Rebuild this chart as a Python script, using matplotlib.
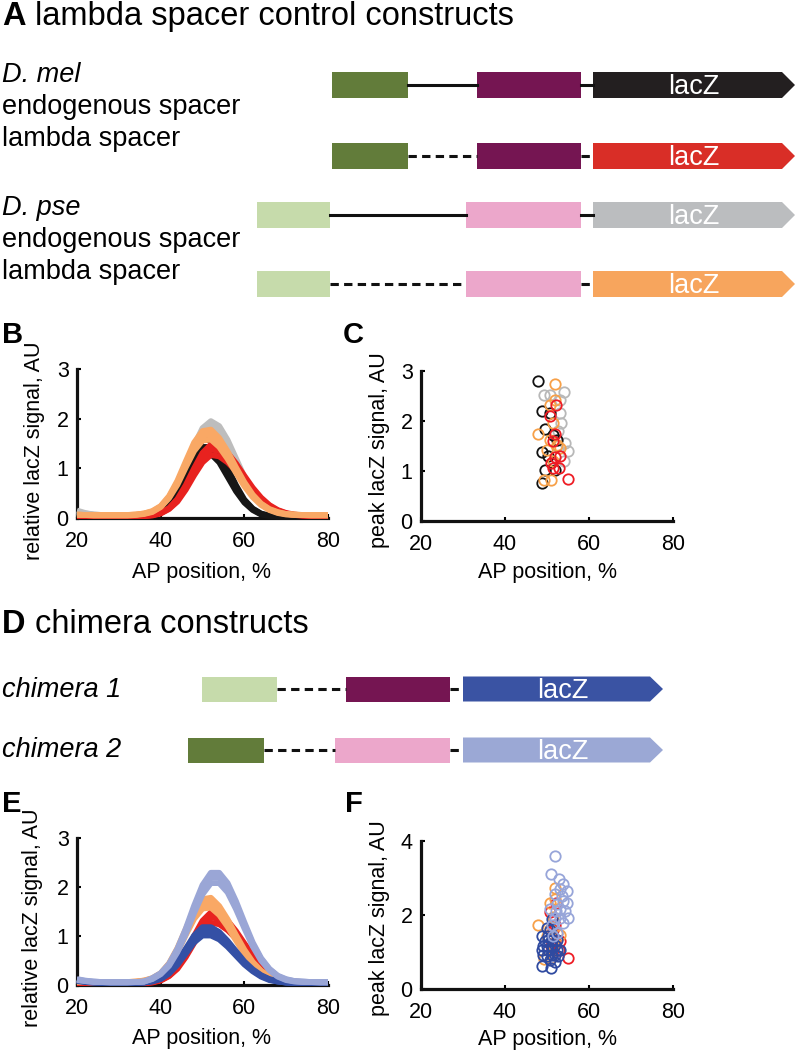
import matplotlib
matplotlib.use("Agg")
import matplotlib.pyplot as plt
import matplotlib.patches as patches

W, H = 796, 1050
plt.rcParams['font.family'] = ['Liberation Sans', 'DejaVu Sans']
plt.rcParams['lines.scale_dashes'] = False

# ---- data ----
ap = list(range(20, 81, 2))  # AP position, %

# relative lacZ signal profiles (several embryos per construct)
mel_endo = [
    [0.04,0.03,0.02,0.02,0.02,0.02,0.02,0.03,0.05,0.10,0.20,0.39,0.68,1.03,1.36,1.57,1.57,1.36,1.01,0.66,0.37,0.19,0.09,0.05,0.03,0.02,0.02,0.02,0.02,0.02,0.02],
    [0.04,0.03,0.02,0.02,0.02,0.02,0.02,0.03,0.05,0.09,0.18,0.36,0.62,0.94,1.24,1.43,1.43,1.24,0.92,0.60,0.34,0.18,0.08,0.04,0.03,0.02,0.02,0.02,0.02,0.02,0.02],
    [0.03,0.03,0.02,0.02,0.02,0.02,0.02,0.03,0.04,0.08,0.16,0.32,0.56,0.85,1.12,1.29,1.29,1.12,0.83,0.54,0.31,0.16,0.07,0.04,0.03,0.02,0.02,0.02,0.02,0.02,0.02],
]
mel_lambda = [
    [0.04,0.04,0.04,0.04,0.04,0.04,0.04,0.04,0.04,0.06,0.10,0.20,0.38,0.66,1.00,1.31,1.48,1.45,1.31,1.10,0.85,0.61,0.41,0.26,0.16,0.10,0.07,0.05,0.04,0.04,0.04],
    [0.04,0.04,0.04,0.04,0.04,0.04,0.04,0.04,0.04,0.06,0.10,0.19,0.36,0.62,0.94,1.22,1.38,1.35,1.22,1.03,0.80,0.57,0.38,0.24,0.15,0.09,0.06,0.05,0.04,0.04,0.04],
    [0.04,0.04,0.04,0.04,0.04,0.04,0.04,0.04,0.04,0.05,0.09,0.18,0.33,0.57,0.86,1.12,1.27,1.24,1.12,0.95,0.74,0.53,0.35,0.22,0.14,0.09,0.06,0.05,0.04,0.04,0.04],
]
pse_endo = [
    [0.15,0.10,0.07,0.06,0.05,0.05,0.05,0.05,0.06,0.10,0.18,0.35,0.63,1.03,1.46,1.81,1.95,1.85,1.57,1.20,0.83,0.52,0.31,0.18,0.10,0.07,0.06,0.05,0.05,0.05,0.05],
    [0.12,0.09,0.07,0.06,0.05,0.05,0.05,0.05,0.06,0.10,0.17,0.33,0.60,0.97,1.38,1.71,1.84,1.75,1.48,1.13,0.79,0.49,0.30,0.17,0.10,0.07,0.06,0.05,0.05,0.05,0.05],
    [0.10,0.08,0.06,0.05,0.05,0.05,0.05,0.05,0.06,0.09,0.16,0.31,0.57,0.92,1.31,1.62,1.74,1.65,1.40,1.07,0.74,0.47,0.28,0.16,0.09,0.06,0.05,0.05,0.05,0.05,0.05],
]
pse_lambda = [
    [0.07,0.06,0.06,0.06,0.06,0.06,0.06,0.07,0.09,0.14,0.24,0.44,0.75,1.14,1.52,1.75,1.78,1.61,1.34,1.02,0.72,0.47,0.29,0.18,0.12,0.08,0.07,0.06,0.06,0.06,0.06],
    [0.07,0.06,0.06,0.06,0.06,0.06,0.06,0.07,0.09,0.13,0.23,0.42,0.71,1.08,1.44,1.66,1.68,1.52,1.27,0.97,0.68,0.45,0.28,0.17,0.11,0.08,0.07,0.06,0.06,0.06,0.06],
    [0.06,0.06,0.05,0.05,0.05,0.05,0.05,0.06,0.08,0.12,0.22,0.40,0.67,1.02,1.35,1.56,1.58,1.43,1.19,0.91,0.64,0.42,0.26,0.16,0.10,0.07,0.06,0.06,0.05,0.05,0.05],
]
chim1 = [
    [0.10,0.07,0.05,0.04,0.04,0.04,0.04,0.04,0.05,0.08,0.14,0.27,0.48,0.74,1.01,1.18,1.18,1.08,0.90,0.69,0.48,0.32,0.20,0.12,0.08,0.05,0.04,0.04,0.04,0.04,0.04],
    [0.09,0.06,0.05,0.04,0.04,0.04,0.04,0.04,0.05,0.08,0.13,0.25,0.45,0.69,0.94,1.10,1.10,1.01,0.84,0.65,0.45,0.30,0.19,0.11,0.07,0.05,0.04,0.04,0.04,0.04,0.04],
    [0.08,0.06,0.05,0.04,0.04,0.04,0.04,0.04,0.05,0.07,0.12,0.23,0.41,0.64,0.87,1.01,1.01,0.93,0.78,0.60,0.42,0.28,0.17,0.10,0.07,0.05,0.04,0.04,0.04,0.04,0.04],
]
chim2 = [
    [0.12,0.09,0.07,0.06,0.06,0.06,0.06,0.06,0.07,0.14,0.24,0.43,0.74,1.15,1.62,2.04,2.29,2.29,2.08,1.71,1.28,0.87,0.55,0.33,0.19,0.12,0.08,0.07,0.06,0.06,0.06],
    [0.11,0.08,0.07,0.06,0.06,0.06,0.06,0.06,0.07,0.13,0.23,0.41,0.71,1.10,1.55,1.95,2.19,2.19,1.99,1.63,1.22,0.83,0.53,0.32,0.18,0.11,0.08,0.07,0.06,0.06,0.06],
    [0.10,0.08,0.06,0.06,0.05,0.05,0.05,0.06,0.07,0.12,0.22,0.39,0.67,1.04,1.47,1.85,2.08,2.08,1.89,1.55,1.16,0.79,0.50,0.30,0.17,0.10,0.07,0.06,0.06,0.05,0.05],
]

# peak position / peak lacZ signal per embryo
mel_endo_px = [47.9, 48.7, 49.5, 48.7, 49.5, 48.9, 50.7, 51.5, 52.3, 50.3, 51.9]
mel_endo_py = [2.79, 2.19, 1.83, 1.37, 1.01, 0.77, 2.15, 1.72, 1.62, 1.29, 1.02]
pse_endo_px = [49.3, 50.6, 54.0, 53.1, 53.3, 52.5, 54.3, 54.9, 54.0, 52.3, 53.1]
pse_endo_py = [2.52, 2.52, 2.57, 2.15, 1.95, 1.79, 1.55, 1.39, 1.19, 1.49, 2.42]
pse_lambda_px = [51.9, 47.9, 50.7, 51.9, 51.5, 50.7, 49.9, 52.3, 49.3, 50.9, 51.5, 53.1]
pse_lambda_py = [2.74, 1.74, 2.32, 2.42, 1.95, 1.62, 1.42, 1.52, 0.82, 0.83, 1.19, 1.45]
mel_lambda_px = [52.1, 50.7, 51.9, 51.5, 50.9, 53.1, 52.9, 51.5, 54.9, 51.9]
mel_lambda_py = [2.32, 2.09, 1.74, 1.59, 1.15, 1.29, 1.05, 1.05, 0.85, 1.27]
chim1_px = [51.1, 49.9, 48.7, 49.1, 48.7, 50.3, 48.7, 50.9, 51.9, 52.3, 50.3, 51.1, 49.9, 51.1,
            51.9, 53.1, 50.7, 51.5, 49.5, 50.7, 52.3, 49.9, 51.9, 49.1, 50.3, 51.1, 52.7]
chim1_py = [1.88, 1.65, 1.42, 1.15, 1.06, 1.33, 0.61, 0.58, 0.74, 1.06, 1.06, 1.15, 0.88, 0.92,
            0.92, 1.06, 1.60, 1.42, 1.29, 0.79, 1.33, 1.15, 1.20, 0.92, 1.42, 1.33, 0.88]
chim2_px = [51.9, 50.9, 52.9, 53.9, 54.8, 53.1, 51.9, 54.8, 53.9, 53.1, 55.1, 53.9, 52.3, 51.9,
            50.7, 54.3, 53.1, 52.3, 51.5, 53.5, 51.1, 52.1]
chim2_py = [3.60, 3.12, 2.97, 2.83, 2.65, 2.69, 2.56, 2.33, 2.38, 2.15, 1.92, 1.79, 2.29, 1.92,
            2.15, 2.10, 1.92, 1.52, 1.42, 2.51, 1.74, 2.10]

# ---- colours ----
c_dkgreen, c_ltgreen = '#627c3a', '#c6dbab'
c_purple, c_pink = '#751552', '#eca7cb'
arrow_black, arrow_red, arrow_gray, arrow_orange = '#231f20', '#d92e27', '#bbbdbf', '#f7a55d'
arrow_blue, arrow_ltblue = '#3a53a3', '#9ba8d5'
k_col, r_col, g_col, o_col = '#161616', '#e8221f', '#bdbdbd', '#f9a865'
b_col, lb_col = '#3450a5', '#9aa6d6'

fig = plt.figure(figsize=(W / 100, H / 100), dpi=100)
dax = fig.add_axes([0, 0, 1, 1])
dax.set_xlim(0, W)
dax.set_ylim(H, 0)
dax.axis('off')


def construct(yc, box1, box2, dashed, col, x0=593, xb=782, xt=795, h=26):
    ls = (0, (6, 3.8)) if dashed else '-'
    dax.plot([box1[1], box2[0]], [yc, yc], color='#111111', lw=2.2, ls=ls)
    dax.plot([box2[1], x0], [yc, yc], color='#111111', lw=2.2, ls=ls)
    for x_a, x_b, fc in (box1, box2):
        dax.add_patch(patches.Rectangle((x_a, yc - h / 2), x_b - x_a, h, color=fc, lw=0))
    dax.add_patch(patches.Polygon([(x0, yc - h / 2), (xb, yc - h / 2), (xt, yc),
                                   (xb, yc + h / 2), (x0, yc + h / 2)], closed=True, color=col, lw=0))
    dax.text((x0 + xt) / 2, yc + 9, 'lacZ', color='white', fontsize=19.5, ha='center', va='baseline')


# panel A
dax.text(2, 25, 'A', fontsize=23.5, fontweight='bold', va='baseline')
dax.text(35, 25, 'lambda spacer control constructs', fontsize=23.5, va='baseline')
for txt, y, st in [('D. mel', 82, 'italic'), ('endogenous spacer', 114, 'normal'), ('lambda spacer', 146, 'normal'),
                   ('D. pse', 215, 'italic'), ('endogenous spacer', 247, 'normal'), ('lambda spacer', 279, 'normal')]:
    dax.text(2, y, txt, fontsize=19.5, style=st, va='baseline')
construct(85, (332, 408, c_dkgreen), (477, 581, c_purple), False, arrow_black)
construct(156, (332, 408, c_dkgreen), (477, 581, c_purple), True, arrow_red)
construct(215, (257, 330, c_ltgreen), (466, 581, c_pink), False, arrow_gray)
construct(284, (257, 330, c_ltgreen), (466, 581, c_pink), True, arrow_orange)

# panel D
dax.text(2, 633, 'D', fontsize=23.5, fontweight='bold', va='baseline')
dax.text(35, 633, 'chimera constructs', fontsize=23.5, va='baseline')
dax.text(2, 697, 'chimera 1', fontsize=19.5, style='italic', va='baseline')
dax.text(2, 757, 'chimera 2', fontsize=19.5, style='italic', va='baseline')
construct(689, (202, 277, c_ltgreen), (346, 450, c_purple), True, arrow_blue, 463, 650, 663, 25)
construct(750, (188, 264, c_dkgreen), (335, 450, c_pink), True, arrow_ltblue, 463, 650, 663, 25)

# panel letters and axis labels
for txt, x, y in [('B', 2, 343), ('C', 343, 343), ('E', 2, 812), ('F', 345, 812)]:
    dax.text(x, y, txt, fontsize=21, fontweight='bold', va='baseline')
for txt, x, y in [('relative lacZ signal, AU', 35, 451), ('peak lacZ signal, AU', 379, 450),
                  ('relative lacZ signal, AU', 33, 918), ('peak lacZ signal, AU', 379, 918)]:
    dax.text(x, y, txt, fontsize=15.5, rotation=90, ha='center', va='center')
for x, y in [(202, 578), (547, 578), (202, 1044), (547, 1045)]:
    dax.text(x, y, 'AP position, %', fontsize=15.5, ha='center', va='baseline')


def px_axes(l, r, t, b):
    ax = fig.add_axes([l / W, 1 - b / H, (r - l) / W, (b - t) / H])
    ax.patch.set_alpha(0)
    for s in ('top', 'right'):
        ax.spines[s].set_visible(False)
    for s in ('left', 'bottom'):
        ax.spines[s].set_linewidth(2.3)
        ax.spines[s].set_color('#111111')
    ax.tick_params(direction='in', length=3, width=1.5, labelsize=15.5)
    ax.tick_params(axis='x', pad=9)
    ax.tick_params(axis='y', pad=6)
    ax.set_xlim(20, 80)
    ax.set_xticks([20, 40, 60, 80])
    return ax


def profiles(ax, groups):
    for curves, col in groups:
        for ys in curves:
            ax.plot(ap, ys, color=col, lw=4.2, solid_capstyle='butt', solid_joinstyle='round',
                    clip_on=False, zorder=3)


def peaks(ax, groups):
    for xs, ys, col in groups:
        ax.plot(xs, ys, 'o', mfc='none', mec=col, ms=7.5, mew=1.3, clip_on=False, zorder=3)


axB = px_axes(77, 328, 369, 518)
axB.set_ylim(0, 3)
axB.set_yticks([0, 1, 2, 3])
profiles(axB, [(pse_endo, g_col), (mel_endo, k_col), (mel_lambda, r_col), (pse_lambda, o_col)])

axC = px_axes(421, 673, 371, 521)
axC.set_ylim(0, 3)
axC.set_yticks([0, 1, 2, 3])
peaks(axC, [(pse_endo_px, pse_endo_py, '#b8b8b8'), (mel_endo_px, mel_endo_py, '#111111'),
            (pse_lambda_px, pse_lambda_py, '#f7a048'), (mel_lambda_px, mel_lambda_py, '#ee1c24')])

axE = px_axes(77, 328, 838, 985)
axE.set_ylim(0, 3)
axE.set_yticks([0, 1, 2, 3])
profiles(axE, [(mel_lambda, r_col), (pse_lambda, o_col), (chim1, b_col), (chim2, lb_col)])

axF = px_axes(421, 673, 841, 989)
axF.set_ylim(0, 4)
axF.set_yticks([0, 2, 4])
peaks(axF, [(mel_lambda_px, mel_lambda_py, '#ee1c24'), (pse_lambda_px, pse_lambda_py, '#f7a048'),
            (chim1_px, chim1_py, '#2f4aa0'), (chim2_px, chim2_py, '#97a5d9')])

fig.savefig('out.png', dpi=100)
